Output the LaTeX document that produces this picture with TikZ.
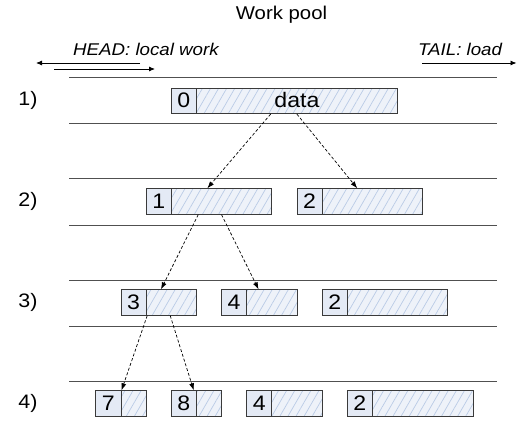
\documentclass[tikz,border=0pt]{standalone}
\usepackage{fontspec}
\setmainfont{Liberation Sans}[FakeStretch=1.1]
\usetikzlibrary{arrows.meta,patterns.meta,calc}
\definecolor{cellfill}{HTML}{E4EAF5}
\definecolor{hatchfill}{HTML}{EEF2F9}
\definecolor{hatchline}{HTML}{BACBE6}
\definecolor{edge}{HTML}{3A3A3A}
\definecolor{rule}{HTML}{505050}

\begin{document}
\begin{tikzpicture}[x=1pt,y=-1pt,
  numcell/.style={draw=edge, line width=0.9pt, fill=cellfill, anchor=west,
    minimum width=25.15pt, minimum height=25.5pt, inner sep=0pt,
    font=\fontsize{21}{21}\selectfont},
  datacell/.style={draw=edge, line width=0.9pt, anchor=west,
    minimum height=25.5pt, inner sep=0pt,
    preaction={fill=hatchfill},
    pattern={Lines[angle=60,distance=7pt,line width=0.7pt]}, pattern color=hatchline,
    font=\fontsize{21}{21}\selectfont},
  rowline/.style={draw=rule, line width=1pt},
  rowlabel/.style={font=\fontsize{19.5}{19.5}\selectfont},
  note/.style={font=\fontsize{17}{17}\selectfont\itshape, anchor=base west, inner sep=0pt},
  flow/.style={draw=black, line width=0.7pt, dash pattern=on 3pt off 2pt,
    -{Latex[length=7pt,width=5pt]}},
  dirarrow/.style={draw=black, line width=0.8pt, -{Latex[length=6pt,width=5pt]}},
]
\useasboundingbox (0,0) rectangle (517,425);

% title and direction notes
\node[font=\fontsize{18.5}{18.5}\selectfont, anchor=base, inner sep=0pt] (title) at (281.5,19.5) {Work pool};
\node[note] (head) at (73,56) {HEAD: local work};
\node[note] (tail) at (418,56) {TAIL: load};
\coordinate (hl0) at (140,63);
\coordinate (hl1) at (36,63);
\coordinate (hr0) at (54,69);
\coordinate (hr1) at (155,69);
\coordinate (tl0) at (422,63);
\coordinate (tl1) at (516.5,63);
\draw[dirarrow] (hl0) -- (hl1);
\draw[dirarrow] (hr0) -- (hr1);
\draw[dirarrow] (tl0) -- (tl1);

% row separators
\foreach \y in {78,124,179,225,280,326,381}
  \draw[rowline] (69,\y) -- (497,\y);

% row labels
\node[rowlabel] (r1) at (28,100.5) {1)};
\node[rowlabel] (r2) at (28,201) {2)};
\node[rowlabel] (r3) at (28,302) {3)};
\node[rowlabel] (r4) at (28,403) {4)};

% row 1
\node[numcell] (n0) at (170.8,101) {\raisebox{1pt}{0}};
\node[datacell, minimum width=201.2pt] (d0) at (195.95,101) {\raisebox{2.5pt}{data}};

% row 2
\node[numcell] (n1) at (145.65,201.5) {\raisebox{1pt}{1}};
\node[datacell, minimum width=100.6pt] (d1) at (170.8,201.5) {};
\node[numcell] (n2a) at (296.55,201.5) {\raisebox{1pt}{2}};
\node[datacell, minimum width=100.6pt] (d2a) at (321.7,201.5) {};

% row 3
\node[numcell] (n3) at (120.5,302.5) {\raisebox{1pt}{3}};
\node[datacell, minimum width=50.3pt] (d3) at (145.65,302.5) {};
\node[numcell] (n4a) at (221.1,302.5) {\raisebox{1pt}{4}};
\node[datacell, minimum width=50.3pt] (d4a) at (246.25,302.5) {};
\node[numcell] (n2b) at (321.7,302.5) {\raisebox{1pt}{2}};
\node[datacell, minimum width=100.6pt] (d2b) at (346.85,302.5) {};

% row 4
\node[numcell] (n7) at (95.35,403.5) {\raisebox{1pt}{7}};
\node[datacell, minimum width=25.15pt] (d7) at (120.5,403.5) {};
\node[numcell] (n8) at (170.8,403.5) {\raisebox{1pt}{8}};
\node[datacell, minimum width=25.15pt] (d8) at (195.95,403.5) {};
\node[numcell] (n4b) at (246.25,403.5) {\raisebox{1pt}{4}};
\node[datacell, minimum width=50.3pt] (d4b) at (271.4,403.5) {};
\node[numcell] (n2c) at (346.85,403.5) {\raisebox{1pt}{2}};
\node[datacell, minimum width=100.6pt] (d2c) at (372,403.5) {};

% splitting of work items
\draw[flow] ($(d0.south west)!0.37!(d0.south east)$) -- ($(d1.north west)!0.36!(d1.north east)$);
\draw[flow] ($(d0.south west)!0.50!(d0.south east)$) -- ($(d2a.north west)!0.35!(d2a.north east)$);
\draw[flow] ($(d1.south west)!0.27!(d1.south east)$) -- ($(d3.north west)!0.30!(d3.north east)$);
\draw[flow] ($(d1.south west)!0.50!(d1.south east)$) -- ($(d4a.north west)!0.24!(d4a.north east)$);
\draw[flow] ($(d3.south west)!0.03!(d3.south east)$) -- ($(d7.north west)!0.04!(d7.north east)$);
\draw[flow] ($(d3.south west)!0.48!(d3.south east)$) -- ($(n8.north west)!0.88!(n8.north east)$);
\end{tikzpicture}
\end{document}
